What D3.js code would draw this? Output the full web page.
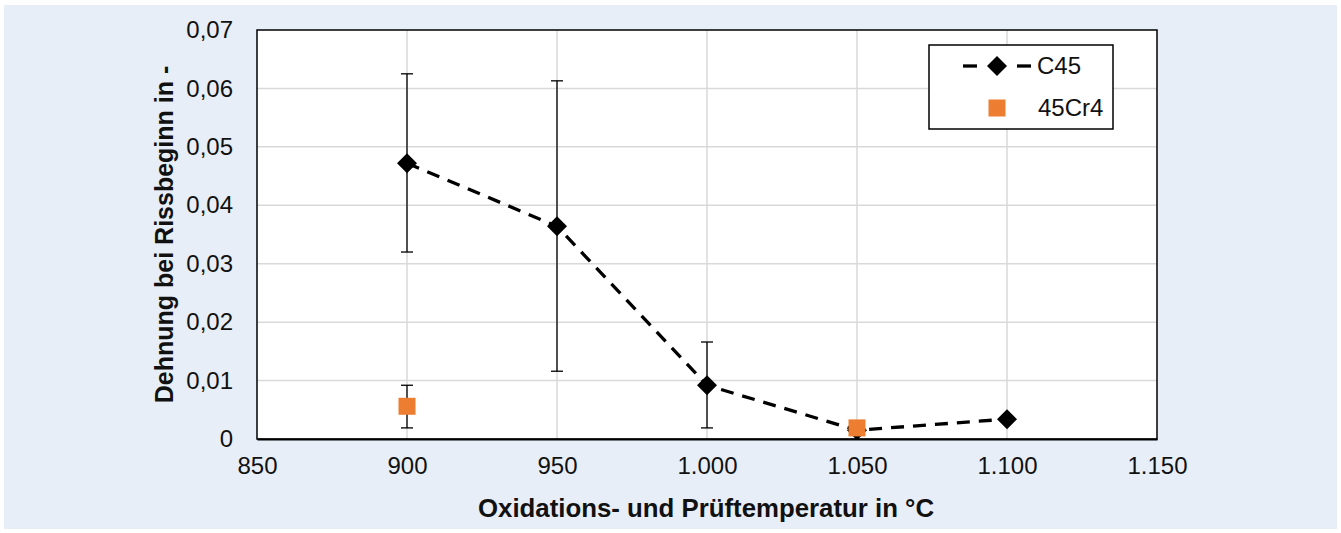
<!DOCTYPE html>
<html><head><meta charset="utf-8">
<script src="https://cdn.jsdelivr.net/npm/d3@7"></script>
<style>body{margin:0;background:#fff}svg{display:block}text{font-family:"Liberation Sans",Arial,sans-serif}</style>
</head><body>
<svg id="c" width="1341" height="533"></svg>
<script>
const temps = [900, 950, 1000, 1050, 1100];
const c45 = [0.0472, 0.0364, 0.0092, 0.0015, 0.0034];
const c45ErrHi = [0.0625, 0.0613, 0.0166, null, null];
const c45ErrLo = [0.0320, 0.0116, 0.0019, null, null];
const cr4Temps = [900, 1050];
const cr4 = [0.0056, 0.0019];
const cr4ErrHi = [0.0092, null];
const cr4ErrLo = [0.0019, null];
const xTicks = [850, 900, 950, 1000, 1050, 1100, 1150];
const xTickLabels = ["850", "900", "950", "1.000", "1.050", "1.100", "1.150"];
const yTicks = [0, 0.01, 0.02, 0.03, 0.04, 0.05, 0.06, 0.07];
const yTickLabels = ["0", "0,01", "0,02", "0,03", "0,04", "0,05", "0,06", "0,07"];
const seriesNames = ["C45", "45Cr4"];
const xTitle = "Oxidations- und Prüftemperatur in °C";
const yTitle = "Dehnung bei Rissbeginn in -";

const svg = d3.select("#c");
svg.append("rect").attr("x",4).attr("y",5).attr("width",1333).attr("height",524).attr("fill","#e8eef8");

const L=257, R=1157, T=30, B=439;
const x = d3.scaleLinear().domain([850,1150]).range([L,R]);
const y = d3.scaleLinear().domain([0,0.07]).range([B,T]);

svg.append("rect").attr("x",L).attr("y",T).attr("width",R-L).attr("height",B-T).attr("fill","#fff");

// grid
svg.append("g").selectAll("line").data(yTicks.slice(1,-1)).join("line")
  .attr("x1",L).attr("x2",R).attr("y1",d=>y(d)).attr("y2",d=>y(d))
  .attr("stroke","#d9d9d9").attr("stroke-width",1.5);
svg.append("g").selectAll("line").data(xTicks.slice(1,-1)).join("line")
  .attr("y1",T).attr("y2",B).attr("x1",d=>x(d)).attr("x2",d=>x(d))
  .attr("stroke","#d9d9d9").attr("stroke-width",1.5);

// frame
svg.append("rect").attr("x",L).attr("y",T).attr("width",R-L).attr("height",B-T)
  .attr("fill","none").attr("stroke","#000").attr("stroke-width",1.5);

// axes
const xAxis = d3.axisBottom(x).tickValues(xTicks).tickFormat((d,i)=>xTickLabels[i]).tickSize(0).tickPadding(18);
const gx = svg.append("g").attr("transform",`translate(0,${B})`).call(xAxis);
gx.select(".domain").attr("stroke","#000").attr("stroke-width",2);
gx.selectAll("text").attr("font-size",24).attr("fill","#111").attr("font-family","Liberation Sans, Arial, sans-serif");

const yAxis = d3.axisLeft(y).tickValues(yTicks).tickFormat((d,i)=>yTickLabels[i]).tickSize(0).tickPadding(24);
const gy = svg.append("g").attr("transform",`translate(${L},0)`).call(yAxis);
gy.select(".domain").remove();
gy.selectAll("text").attr("font-size",24).attr("fill","#111").attr("font-family","Liberation Sans, Arial, sans-serif");

// titles
svg.append("text").attr("x",706).attr("y",517).attr("text-anchor","middle")
  .attr("font-size",25.8).attr("font-weight","bold").attr("fill","#111").text(xTitle);
svg.append("text").attr("transform",`translate(173,234.5) rotate(-90)`).attr("text-anchor","middle")
  .attr("font-size",25).attr("font-weight","bold").attr("fill","#111").text(yTitle);

// error bars
function errBars(tx, hi, lo){
  const g = svg.append("g").attr("stroke","#000").attr("stroke-width",1.3);
  tx.forEach((t,i)=>{
    if(hi[i]==null) return;
    g.append("line").attr("x1",x(t)).attr("x2",x(t)).attr("y1",y(hi[i])).attr("y2",y(lo[i]));
    g.append("line").attr("x1",x(t)-6).attr("x2",x(t)+6).attr("y1",y(hi[i])).attr("y2",y(hi[i]));
    g.append("line").attr("x1",x(t)-6).attr("x2",x(t)+6).attr("y1",y(lo[i])).attr("y2",y(lo[i]));
  });
}
errBars(temps, c45ErrHi, c45ErrLo);
errBars(cr4Temps, cr4ErrHi, cr4ErrLo);

// C45 line
const line = d3.line().x((d,i)=>x(temps[i])).y(d=>y(d));
svg.append("path").datum(c45).attr("d",line).attr("fill","none").attr("stroke","#000")
  .attr("stroke-width",3.3).attr("stroke-dasharray","13,9");
const diamond = d3.symbol().type(d3.symbolSquare).size(200);
svg.append("g").selectAll("path").data(c45).join("path")
  .attr("d",diamond()).attr("fill","#000")
  .attr("transform",(d,i)=>`translate(${x(temps[i])},${y(d)}) rotate(45)`);
// 45Cr4
svg.append("g").selectAll("rect").data(cr4).join("rect")
  .attr("x",(d,i)=>x(cr4Temps[i])-8.5).attr("y",d=>y(d)-8.5).attr("width",17).attr("height",17)
  .attr("fill","#ed7d31");

// legend
const lg = svg.append("g");
lg.append("rect").attr("x",929).attr("y",45).attr("width",184).attr("height",84)
  .attr("fill","#fff").attr("stroke","#000").attr("stroke-width",1.5);
lg.append("line").attr("x1",963).attr("x2",977).attr("y1",66).attr("y2",66)
  .attr("stroke","#000").attr("stroke-width",3.3);
lg.append("line").attr("x1",1017).attr("x2",1031).attr("y1",66).attr("y2",66)
  .attr("stroke","#000").attr("stroke-width",3.3);
lg.append("path").attr("d",diamond()).attr("fill","#000").attr("transform","translate(997,66) rotate(45)");
lg.append("rect").attr("x",988.5).attr("y",99.5).attr("width",17).attr("height",17).attr("fill","#ed7d31");
lg.append("text").attr("x",1037).attr("y",74).attr("font-size",24).attr("fill","#111").text(seriesNames[0]);
lg.append("text").attr("x",1038).attr("y",116).attr("font-size",24).attr("fill","#111").text(seriesNames[1]);
</script>
</body></html>
